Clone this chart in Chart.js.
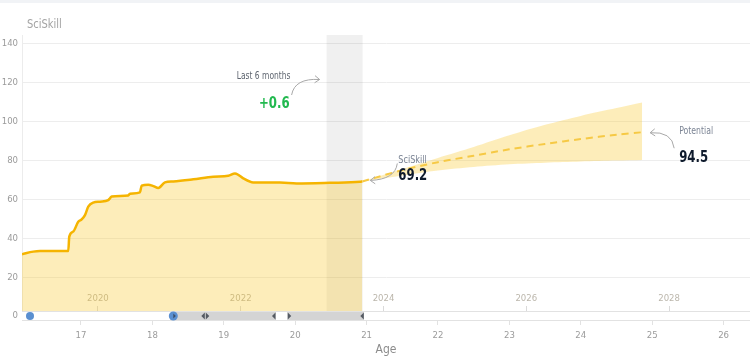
<!DOCTYPE html>
<html><head><meta charset="utf-8">
<script src="https://cdn.jsdelivr.net/npm/chart.js@4.4.1/dist/chart.umd.min.js"></script>
<style>html,body{margin:0;padding:0;background:#fff;overflow:hidden}canvas{display:block}</style>
</head><body>
<canvas id="c" width="750" height="356"></canvas>
<script>
// ---- data ----
const historyAges = [16.174,16.332,16.426,16.822,16.836,16.892,16.962,17.010,17.056,17.102,17.172,17.266,17.382,17.406,17.430,17.662,17.686,17.826,17.850,17.943,18.013,18.083,18.176,18.293,18.573,18.853,19.063,19.157,19.203,19.273,19.413,19.787,20.021,20.487,20.908,20.940];
const historyScores = [31.8,33.1,33.4,33.4,40.8,43.4,48.5,49.7,51.9,56.2,58.3,58.8,59.6,60.5,61.5,62.0,62.9,63.6,67.0,67.5,66.8,65.8,68.7,69.2,70.3,71.6,72.1,73.3,72.6,70.8,68.7,68.7,68.2,68.5,69.0,69.2];
const projectionAges = [20.94,21.5,22,22.5,23,23.5,24,24.5,24.86];
const projectionMid = [69.2,75.0,79.1,82.4,85.7,88.5,91.0,93.2,94.5];
const projectionUpper = [69.2,75.6,81.3,86.9,92.9,98.3,102.9,106.9,109.8];
const projectionLower = [69.2,72.2,74.8,76.6,78.0,78.8,79.4,79.9,80.2];
const yTicks = [0,20,40,60,80,100,120,140];
const ageTicks = [17,18,19,20,21,22,23,24,25,26];
const yearTicks = [2020,2022,2024,2026,2028];
const yearOffset = 2002.763;          // calendar year minus age
const ageRange = [16.174, 26.37];
const scoreRange = [0, 144.5];
const recentWindow = [20.44, 20.945];  // last 6 months
const recentChange = '+0.6';
const currentLabel = '69.2';
const potentialLabel = '94.5';
const sliderDotAge = 16.286;
const sliderHandleAge = 18.293;
const sliderSegments = [[18.293, 19.731], [19.889, 20.964]];
const sliderLeftArrows = [18.713, 19.703, 20.94];
const sliderRightArrows = [18.769, 19.917];

const FONT = "'DejaVu Sans Condensed', 'DejaVu Sans', sans-serif";
Chart.defaults.font.family = FONT;

const toXY = (xs, ys) => xs.map((x, i) => ({x, y: ys[i]}));
const FILL = 'rgba(248,200,40,0.32)';

function txt(ctx, s, x, y, font, color, align, baseline, sx) {
  ctx.save();
  ctx.font = font; ctx.fillStyle = color; ctx.textAlign = align; ctx.textBaseline = baseline;
  ctx.translate(x, y); ctx.scale(sx, 1);
  ctx.fillText(s, 0, 0);
  ctx.restore();
}

function curvedArrow(ctx, x1, y1, cx, cy, x2, y2) {
  ctx.beginPath();
  ctx.moveTo(x1, y1);
  ctx.quadraticCurveTo(cx, cy, x2, y2);
  ctx.stroke();
  const ang = Math.atan2(y2 - cy, x2 - cx);
  const L = 6;
  ctx.beginPath();
  ctx.moveTo(x2 + L * Math.cos(ang + 2.5), y2 + L * Math.sin(ang + 2.5));
  ctx.lineTo(x2, y2);
  ctx.lineTo(x2 + L * Math.cos(ang - 2.5), y2 + L * Math.sin(ang - 2.5));
  ctx.stroke();
}

const decor = {
  id: 'decor',
  beforeDraw(chart) {
    const ctx = chart.ctx;
    ctx.save();
    ctx.fillStyle = '#f1f3f6';
    ctx.fillRect(0, 0, chart.width, 3);
    ctx.restore();
  },
  beforeDatasetsDraw(chart) {
    const {ctx, chartArea, scales} = chart;
    const x1 = scales.x.getPixelForValue(recentWindow[0]);
    const x2 = scales.x.getPixelForValue(recentWindow[1]);
    ctx.save();
    ctx.fillStyle = 'rgba(0,0,0,0.06)';
    ctx.fillRect(x1, chartArea.top, x2 - x1, chartArea.bottom - chartArea.top);
    ctx.restore();
  },
  afterDraw(chart) {
    const {ctx, chartArea, scales} = chart;
    const xs = scales.x, ys = scales.y;
    ctx.save();
    // title
    txt(ctx, 'SciSkill', chartArea.left + 5, 25, '12px ' + FONT, '#a3a3a3', 'left', 'middle', 0.92);

    // slider
    const sy = ys.getPixelForValue(0);
    const L = chartArea.left, R = chartArea.right;
    ctx.fillStyle = '#ffffff';
    ctx.fillRect(L, sy - 5, R - L, 9);
    ctx.strokeStyle = '#e2e2e2';
    ctx.lineWidth = 1;
    ctx.beginPath();
    ctx.moveTo(L, sy - 4.5); ctx.lineTo(R, sy - 4.5);
    ctx.moveTo(L, sy + 4.5); ctx.lineTo(R, sy + 4.5);
    ctx.stroke();
    ctx.fillStyle = '#d4d4d4';
    sliderSegments.forEach(([a, b]) => {
      const p = xs.getPixelForValue(a), q = xs.getPixelForValue(b);
      ctx.fillRect(p, sy - 4, q - p, 8);
    });
    ctx.fillStyle = '#555b63';
    sliderLeftArrows.forEach(a => {
      const p = xs.getPixelForValue(a);
      ctx.beginPath(); ctx.moveTo(p + 1.5, sy - 3.5); ctx.lineTo(p - 2, sy); ctx.lineTo(p + 1.5, sy + 3.5); ctx.closePath(); ctx.fill();
    });
    sliderRightArrows.forEach(a => {
      const p = xs.getPixelForValue(a);
      ctx.beginPath(); ctx.moveTo(p - 1.5, sy - 3.5); ctx.lineTo(p + 2, sy); ctx.lineTo(p - 1.5, sy + 3.5); ctx.closePath(); ctx.fill();
    });
    ctx.fillStyle = '#5a8fd0';
    ctx.beginPath(); ctx.arc(xs.getPixelForValue(sliderDotAge), sy, 4, 0, Math.PI * 2); ctx.fill();
    const hx = xs.getPixelForValue(sliderHandleAge);
    ctx.beginPath(); ctx.arc(hx, sy, 4.5, 0, Math.PI * 2); ctx.fill();
    ctx.fillStyle = '#3a4f6a';
    ctx.beginPath(); ctx.moveTo(hx, sy - 2.5); ctx.lineTo(hx + 2.5, sy); ctx.lineTo(hx, sy + 2.5); ctx.closePath(); ctx.fill();

    // last 6 months annotation
    const bx = xs.getPixelForValue(recentWindow[0]);
    txt(ctx, 'Last 6 months', bx - 63, 76, '10.5px ' + FONT, '#5f6670', 'center', 'middle', 0.8);
    txt(ctx, recentChange, bx - 37, 107.5, 'bold 15px ' + FONT, '#22b94f', 'right', 'alphabetic', 0.87);
    ctx.strokeStyle = '#a8a8a8';
    ctx.lineWidth = 1;
    curvedArrow(ctx, bx - 35, 95, bx - 32, 78, bx - 7, 79.5);

    // current value annotation
    const lastI = historyAges.length - 1;
    const ex = xs.getPixelForValue(historyAges[lastI]);
    const ey = ys.getPixelForValue(historyScores[lastI]);
    txt(ctx, 'SciSkill', ex + 36, ey - 21, '10.5px ' + FONT, '#7b8494', 'left', 'middle', 0.86);
    txt(ctx, currentLabel, ex + 36, ey - 1.5, 'bold 15px ' + FONT, '#0f1b2d', 'left', 'alphabetic', 0.87);
    curvedArrow(ctx, ex + 35, ey - 18, ex + 33, ey - 2, ex + 8, ey - 1);

    // potential annotation
    const pI = projectionAges.length - 1;
    const px = xs.getPixelForValue(projectionAges[pI]);
    const py = ys.getPixelForValue(projectionMid[pI]);
    txt(ctx, 'Potential', px + 37, py - 1, '10.5px ' + FONT, '#7b8494', 'left', 'middle', 0.82);
    txt(ctx, potentialLabel, px + 37, py + 30, 'bold 15px ' + FONT, '#0f1b2d', 'left', 'alphabetic', 0.87);
    curvedArrow(ctx, px + 32, py + 16, px + 30, py - 1, px + 8, py + 0.5);
    ctx.restore();
  }
};

new Chart(document.getElementById('c'), {
  type: 'line',
  data: {
    datasets: [
      { label: 'Potential', data: toXY(projectionAges, projectionMid), borderColor: '#f6c945', borderWidth: 2, borderDash: [7, 5], pointRadius: 0, fill: false, tension: 0.3, order: 0 },
      { label: 'SciSkill', data: toXY(historyAges, historyScores), borderColor: '#f5b400', borderWidth: 2.5, backgroundColor: FILL, fill: 'origin', pointRadius: 0, cubicInterpolationMode: 'monotone', order: 1 },
      { label: 'Upper', data: toXY(projectionAges, projectionUpper), borderWidth: 0, borderColor: 'rgba(0,0,0,0)', backgroundColor: FILL, fill: '+1', pointRadius: 0, tension: 0.3, order: 2 },
      { label: 'Lower', data: toXY(projectionAges, projectionLower), borderWidth: 0, borderColor: 'rgba(0,0,0,0)', fill: false, pointRadius: 0, tension: 0.3, order: 3 }
    ]
  },
  options: {
    responsive: false,
    animation: false,
    devicePixelRatio: 1,
    layout: { padding: { top: 35, right: 0, left: 0, bottom: 0 } },
    plugins: { legend: { display: false }, tooltip: { enabled: false }, title: { display: false } },
    scales: {
      x: {
        type: 'linear', min: ageRange[0], max: ageRange[1],
        afterBuildTicks: s => { s.ticks = ageTicks.map(v => ({value: v})); },
        afterFit: s => { s.height = 40; },
        ticks: { color: '#9b9b9b', font: { size: 9.5 }, padding: 5, callback: v => String(v) },
        grid: { drawOnChartArea: false, drawTicks: true, tickLength: 9, color: '#e2e2e2' },
        border: { display: false },
        title: { display: true, text: 'Age', color: '#8c8c8c', font: { size: 12 }, padding: { top: 0, bottom: -1 } }
      },
      x2: {
        type: 'linear', axis: 'x', position: { y: 0 },
        min: ageRange[0] + yearOffset, max: ageRange[1] + yearOffset,
        afterBuildTicks: s => { s.ticks = yearTicks.map(v => ({value: v})); },
        ticks: { color: 'rgba(130,120,100,0.55)', font: { size: 9.5 }, padding: -13, callback: v => String(v) },
        grid: { drawOnChartArea: false, drawTicks: true, tickLength: -10, color: 'rgba(150,150,150,0.35)' },
        border: { display: false }
      },
      y: {
        min: scoreRange[0], max: scoreRange[1],
        afterBuildTicks: s => { s.ticks = yTicks.map(v => ({value: v})); },
        afterFit: s => { s.width = 22; },
        ticks: { color: '#9b9b9b', font: { size: 9.5 }, padding: 4 },
        grid: { color: '#ededed', drawTicks: false },
        border: { display: true, color: '#ececec' }
      }
    }
  },
  plugins: [decor]
});
</script>
</body></html>
